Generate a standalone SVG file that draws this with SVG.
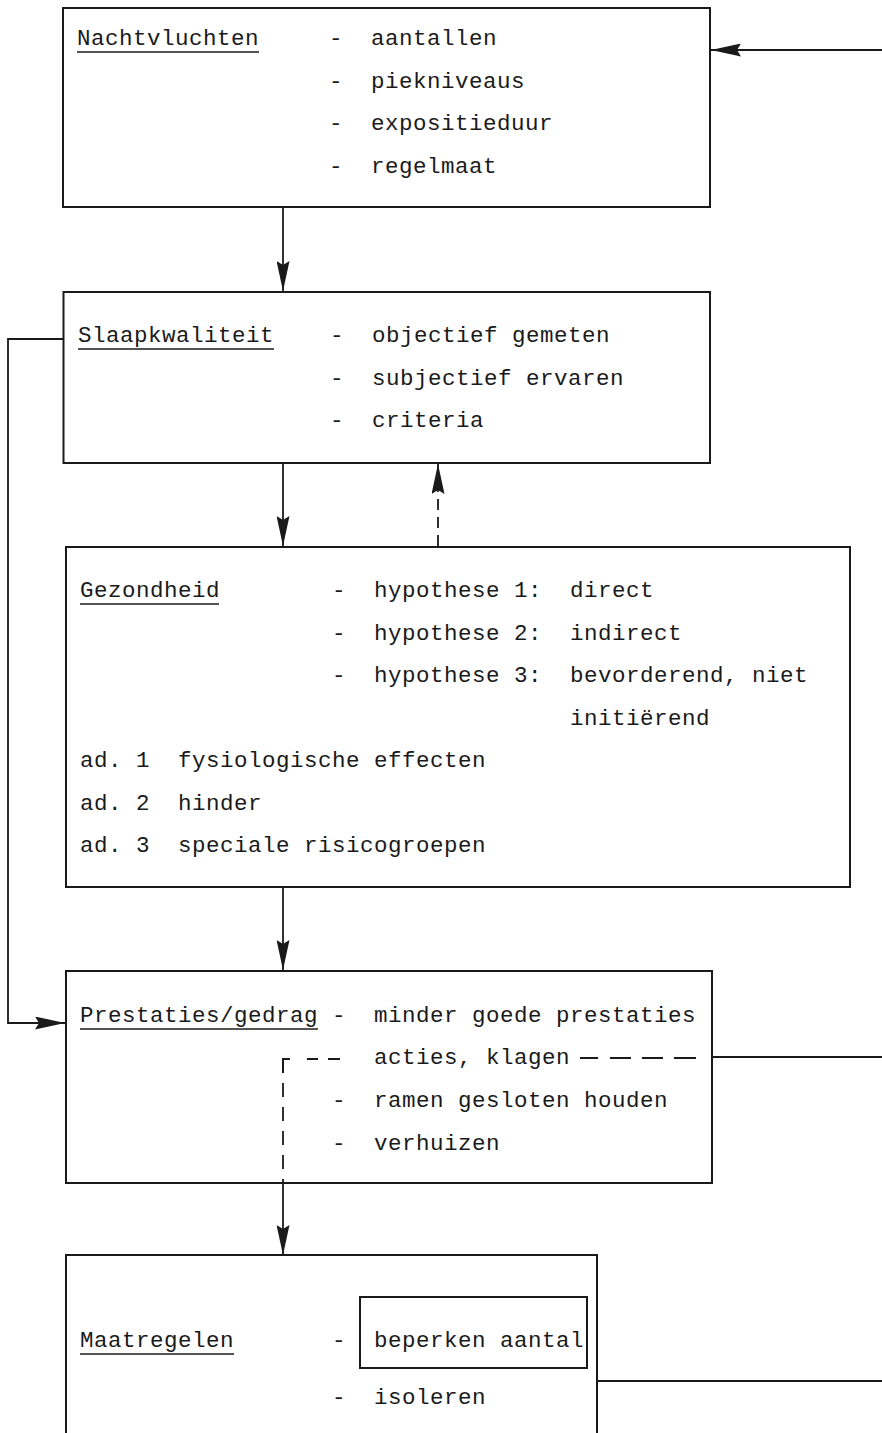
<svg xmlns="http://www.w3.org/2000/svg" width="882" height="1433" viewBox="0 0 882 1433">
  <style>
    .box { fill: none; stroke: #1a1a1a; stroke-width: 2; }
    .t { font-family: "Liberation Mono", "DejaVu Sans Mono", monospace; font-size: 22.5px; letter-spacing: 0.5px; fill: #1a1a1a; }
    .ul { stroke: #1a1a1a; stroke-width: 1.6; }
    .ln { fill: none; stroke: #1a1a1a; stroke-width: 1.8; }
    .dash { fill: none; stroke: #1a1a1a; stroke-width: 1.8; stroke-dasharray: 11 7; }
    .seg { stroke: #1a1a1a; stroke-width: 2; fill: none; }
  </style>
  <defs>
    <marker id="ah" viewBox="0 0 30 13" refX="30" refY="6.5" markerWidth="30" markerHeight="13" markerUnits="userSpaceOnUse" orient="auto">
      <path d="M0,0 L30,6.5 L0,13 L4,6.5 Z" fill="#1a1a1a"/>
    </marker>
  </defs>
  <rect width="882" height="1433" fill="#ffffff"/>

  <g id="connectors">
    <line class="ln" x1="283" y1="207" x2="283" y2="291" marker-end="url(#ah)"/>
    <line class="ln" x1="283" y1="463" x2="283" y2="546" marker-end="url(#ah)"/>
    <line class="dash" x1="438" y1="546" x2="438" y2="464" marker-end="url(#ah)"/>
    <line class="ln" x1="283" y1="887" x2="283" y2="970" marker-end="url(#ah)"/>
    <line class="ln" x1="283" y1="1183" x2="283" y2="1255" marker-end="url(#ah)"/>
    <line class="ln" x1="882" y1="50" x2="711" y2="50" marker-end="url(#ah)"/>
    <polyline class="ln" points="63,339 8,339 8,1023 65,1023" marker-end="url(#ah)"/>
    <line class="ln" x1="712" y1="1057" x2="882" y2="1057"/>
    <line class="ln" x1="597" y1="1381" x2="882" y2="1381"/>
    <polyline class="seg" points="283,1073 283,1059 290,1059"/>
    <line class="seg" x1="307" y1="1059" x2="318" y2="1059"/>
    <line class="seg" x1="328" y1="1059" x2="340" y2="1059"/>
    <line class="dash" x1="283" y1="1083" x2="283" y2="1183" style="stroke-dasharray: 14 10"/>
    <line class="seg" x1="580" y1="1058" x2="598" y2="1058"/>
    <line class="seg" x1="610" y1="1058" x2="631" y2="1058"/>
    <line class="seg" x1="642" y1="1058" x2="663" y2="1058"/>
    <line class="seg" x1="674" y1="1058" x2="696" y2="1058"/>
  </g>

  <g id="nachtvluchten">
    <rect class="box" x="63" y="8" width="647" height="199"/>
    <text class="t" x="77" y="45">Nachtvluchten</text>
    <line class="ul" x1="77" y1="52" x2="259" y2="52"/>
    <text class="t" x="329" y="45">-</text><text class="t" x="371" y="45">aantallen</text>
    <text class="t" x="329" y="87.5">-</text><text class="t" x="371" y="87.5">piekniveaus</text>
    <text class="t" x="329" y="130">-</text><text class="t" x="371" y="130">expositieduur</text>
    <text class="t" x="329" y="172.5">-</text><text class="t" x="371" y="172.5">regelmaat</text>
  </g>

  <g id="slaapkwaliteit">
    <rect class="box" x="63.5" y="292" width="646.5" height="171"/>
    <text class="t" x="78" y="342">Slaapkwaliteit</text>
    <line class="ul" x1="78" y1="349" x2="274" y2="349"/>
    <text class="t" x="330" y="342">-</text><text class="t" x="372" y="342">objectief gemeten</text>
    <text class="t" x="330" y="385">-</text><text class="t" x="372" y="385">subjectief ervaren</text>
    <text class="t" x="330" y="427">-</text><text class="t" x="372" y="427">criteria</text>
  </g>

  <g id="gezondheid">
    <rect class="box" x="66" y="547" width="784" height="340"/>
    <text class="t" x="80" y="597">Gezondheid</text>
    <line class="ul" x1="80" y1="604" x2="219" y2="604"/>
    <text class="t" x="332" y="597">-</text><text class="t" x="374" y="597">hypothese 1:</text><text class="t" x="570" y="597">direct</text>
    <text class="t" x="332" y="639.5">-</text><text class="t" x="374" y="639.5">hypothese 2:</text><text class="t" x="570" y="639.5">indirect</text>
    <text class="t" x="332" y="682">-</text><text class="t" x="374" y="682">hypothese 3:</text><text class="t" x="570" y="682">bevorderend, niet</text>
    <text class="t" x="570" y="724.5">initiërend</text>
    <text class="t" x="80" y="767">ad. 1</text><text class="t" x="178" y="767">fysiologische effecten</text>
    <text class="t" x="80" y="809.5">ad. 2</text><text class="t" x="178" y="809.5">hinder</text>
    <text class="t" x="80" y="852">ad. 3</text><text class="t" x="178" y="852">speciale risicogroepen</text>
  </g>

  <g id="prestaties">
    <rect class="box" x="66" y="971" width="646" height="212"/>
    <text class="t" x="80" y="1022">Prestaties/gedrag</text>
    <line class="ul" x1="80" y1="1029" x2="318" y2="1029"/>
    <text class="t" x="332" y="1022">-</text><text class="t" x="374" y="1022">minder goede prestaties</text>
    <text class="t" x="374" y="1064">acties, klagen</text>
    <text class="t" x="332" y="1107">-</text><text class="t" x="374" y="1107">ramen gesloten houden</text>
    <text class="t" x="332" y="1149.5">-</text><text class="t" x="374" y="1149.5">verhuizen</text>
  </g>

  <g id="maatregelen">
    <path class="box" d="M66,1440 L66,1255 L597,1255 L597,1440"/>
    <text class="t" x="80" y="1347">Maatregelen</text>
    <line class="ul" x1="80" y1="1354" x2="234" y2="1354"/>
    <text class="t" x="332" y="1347">-</text>
    <rect class="box" x="360" y="1297" width="227" height="71"/>
    <text class="t" x="374" y="1347">beperken aantal</text>
    <text class="t" x="332" y="1404">-</text><text class="t" x="374" y="1404">isoleren</text>
  </g>
</svg>
